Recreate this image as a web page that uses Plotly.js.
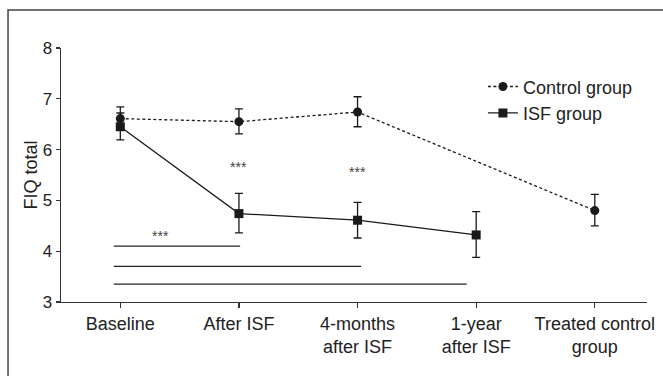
<!DOCTYPE html>
<html><head><meta charset="utf-8">
<script src="https://cdn.plot.ly/plotly-3.0.1.min.js"></script>
<style>html,body{margin:0;padding:0;background:#fff;}</style>
</head><body><div id="chart" style="width:663px;height:376px;"></div>
<script>
var categories = ["Baseline", "After ISF", "4-months<br>after ISF", "1-year<br>after ISF", "Treated control<br>group"];
var controlX = [0, 1, 2, 4];
var controlMean = [6.61, 6.55, 6.74, 4.80];
var controlUpper = [6.84, 6.80, 7.04, 5.12];
var controlLower = [6.38, 6.31, 6.45, 4.50];
var isfX = [0, 1, 2, 3];
var isfMean = [6.45, 4.74, 4.61, 4.32];
var isfUpper = [6.72, 5.14, 4.96, 4.78];
var isfLower = [6.19, 4.36, 4.26, 3.88];
// significance brackets: [xStart, xEnd, y]
var sigLines = [[-0.055, 1.01, 4.10], [-0.055, 2.03, 3.70], [-0.055, 2.92, 3.35]];
var starLabels = [[1, 5.66], [2, 5.56], [0.34, 4.30]];

function diff(a, b) { return a.map(function (v, i) { return v - b[i]; }); }

var dark = '#1a1a1a';
var FONT = 'Liberation Sans, Arial, Helvetica, sans-serif';
var traces = [
  {
    x: controlX, y: controlMean, name: 'Control group', type: 'scatter', mode: 'lines+markers',
    line: {color: dark, width: 1.3, dash: '3px,2.5px'},
    marker: {symbol: 'circle', size: 9, color: dark},
    error_y: {type: 'data', symmetric: false, array: diff(controlUpper, controlMean),
      arrayminus: diff(controlMean, controlLower), color: dark, thickness: 1.3, width: 4}
  },
  {
    x: isfX, y: isfMean, name: 'ISF group', type: 'scatter', mode: 'lines+markers',
    line: {color: dark, width: 1.3},
    marker: {symbol: 'square', size: 9, color: dark},
    error_y: {type: 'data', symmetric: false, array: diff(isfUpper, isfMean),
      arrayminus: diff(isfMean, isfLower), color: dark, thickness: 1.3, width: 4}
  }
];

var shapes = sigLines.map(function (s) {
  return {type: 'line', xref: 'x', yref: 'y', x0: s[0], x1: s[1], y0: s[2], y1: s[2],
    line: {color: '#222', width: 1.3}};
});
shapes.push({type: 'rect', xref: 'paper', yref: 'paper', x0: -0.0904, x1: 1.2, y0: -0.5, y1: 1.15,
  line: {color: '#444', width: 1.5}, fillcolor: 'rgba(0,0,0,0)', layer: 'below'});

var annotations = starLabels.map(function (s) {
  return {x: s[0], y: s[1], xref: 'x', yref: 'y', text: '***', showarrow: false,
    font: {size: 14, color: '#444', family: FONT}};
});

var layout = {
  width: 663, height: 376,
  margin: {l: 61, r: 16, t: 48, b: 74},
  paper_bgcolor: '#fff', plot_bgcolor: '#fff',
  font: {family: FONT, size: 18, color: '#222'},
  showlegend: true,
  legend: {x: 0.72, y: 0.92, xanchor: 'left', yanchor: 'top', bgcolor: 'rgba(0,0,0,0)',
    font: {size: 18, color: '#222'}, itemwidth: 30, tracegroupgap: 0},
  xaxis: {
    range: [-0.5, 4.44], tickmode: 'array', tickvals: [0, 1, 2, 3, 4], ticktext: categories,
    showgrid: false, zeroline: false, showline: true, linecolor: '#333', linewidth: 1.3,
    ticks: 'outside', ticklen: 5, tickcolor: '#333', tickwidth: 1.3,
    tickfont: {size: 18, color: '#222'}
  },
  yaxis: {
    range: [3, 8], tickvals: [3, 4, 5, 6, 7, 8], showgrid: false, zeroline: false,
    showline: true, linecolor: '#333', linewidth: 1.3, ticks: 'outside', ticklen: 4,
    tickcolor: '#333', tickwidth: 1.3, tickfont: {size: 17, color: '#222'},
    title: {text: 'FIQ total', font: {size: 18, color: '#222'}, standoff: 0}
  },
  shapes: shapes,
  annotations: annotations
};

Plotly.newPlot('chart', traces, layout, {displayModeBar: false, staticPlot: true});
</script></body></html>
